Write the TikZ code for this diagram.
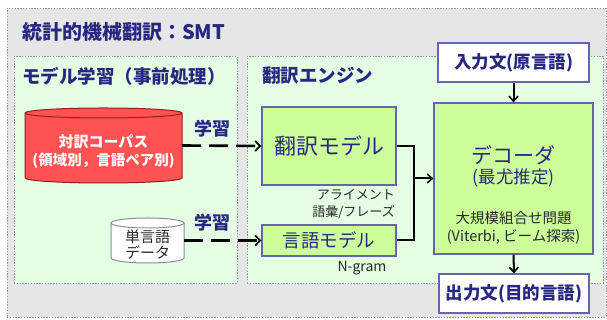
\documentclass[tikz,border=0pt]{standalone}
\usepackage{fontspec}
\setmainfont{Noto Sans CJK JP}
\usetikzlibrary{arrows.meta}
\definecolor{navy}{RGB}{40,40,130}
\definecolor{bdr}{RGB}{100,100,175}
\definecolor{lime}{RGB}{204,255,153}
\definecolor{panelc}{RGB}{228,255,228}
\definecolor{outerc}{RGB}{230,230,230}
\definecolor{dotc}{RGB}{150,150,168}
\definecolor{corp}{RGB}{255,82,82}
\definecolor{corpb}{RGB}{150,30,30}
\definecolor{cylb}{RGB}{140,140,150}
\definecolor{txtc}{RGB}{40,40,40}
\newcommand{\fs}[1]{\fontsize{#1}{#1}\selectfont}
\tikzset{
  panelbox/.style={draw=dotc, line width=0.9pt, dash pattern=on 1.4pt off 1.4pt, fill=panelc, inner sep=0pt},
  outerbox/.style={draw=dotc, line width=0.9pt, dash pattern=on 1.4pt off 1.4pt, fill=outerc, inner sep=0pt},
  greenbox/.style={draw=bdr, line width=1.2pt, fill=lime, inner sep=0pt, text=navy},
  whitebox/.style={draw=bdr, line width=1.2pt, fill=white, inner sep=0pt, text=navy, font=\fs{17.5}\bfseries},
  heading/.style={anchor=west, inner sep=0pt, text=navy, font=\fs{18.5}\bfseries},
  learn/.style={inner sep=0pt, text=navy, font=\fs{18}\bfseries},
  note/.style={inner sep=0pt, text=txtc, font=\fs{13}},
  conn/.style={line width=2pt, black, line join=miter},
  tip/.style={-{Straight Barb[length=5pt,width=9pt,line width=1.6pt]}},
  dasharrow/.style={line width=2.6pt, black, dash pattern=on 19pt off 8pt, -{Straight Barb[length=5pt,width=10pt,line width=1.8pt]}},
  ghost/.style={inner sep=0pt, draw=none}
}
\begin{document}
\begin{tikzpicture}[x=1pt,y=1pt]
\useasboundingbox (0,0) rectangle (607,320);
% outer and panels
\node[outerbox, minimum width=599pt, minimum height=309pt] (outer) at (306.5,157.5) {};
\node[panelbox, minimum width=223pt, minimum height=227pt] (leftp) at (125.5,150.5) {};
\node[panelbox, minimum width=356pt, minimum height=227pt] (engp) at (425,150.5) {};
% headings
\node[heading, font=\fs{20}\bfseries] (title) at (22,288) {統計的機械翻訳：SMT};
\node[heading] (lhead) at (22,244) {モデル学習（事前処理）};
\node[heading] (ehead) at (262,244) {翻訳エンジン};
% input / output
\node[whitebox, minimum width=151pt, minimum height=39pt] (input) at (513.5,257.5) {入力文(原言語)};
\node[whitebox, minimum width=150pt, minimum height=39pt] (output) at (514,26.5) {出力文(目的言語)};
% decoder
\node[greenbox, minimum width=159pt, minimum height=151pt] (decoder) at (513.5,141.5) {};
\node[inner sep=0pt, text=navy, font=\fs{21}] (dec1) at (513.5,165) {デコーダ};
\node[inner sep=0pt, text=navy, font=\fs{17.5}] (dec2) at (513.5,142) {(最尤推定)};
\node[inner sep=0pt, text=txtc, font=\fs{14.5}] (dec3) at (513.5,102) {大規模組合せ問題};
\node[inner sep=0pt, text=txtc, font=\fs{14.5}] (dec4) at (513.5,83) {(Viterbi, ビーム探索)};
% models
\node[greenbox, minimum width=134pt, minimum height=78pt, font=\fs{22}] (tmodel) at (329,174) {翻訳モデル};
\node[greenbox, minimum width=134pt, minimum height=31pt, font=\fs{18.5}] (lmodel) at (329,79.5) {言語モデル};
\node[note, anchor=east] (al1) at (395,125) {アライメント};
\node[note, anchor=east] (al2) at (395,108) {語彙/フレーズ};
\node[note, font=\fs{14}] (ngram) at (362,52) {N-gram};
% corpus cylinder
\node[ghost, minimum width=157pt, minimum height=75pt] (corpus) at (103.5,174.5) {};
\draw[fill=corp, draw=corpb, line width=1pt] (25,207) -- (25,142) arc[start angle=180,end angle=360,x radius=78.5,y radius=5] -- (182,207) arc[start angle=0,end angle=180,x radius=78.5,y radius=5] -- cycle;
\draw[draw=corpb, line width=1pt] (25,207) arc[start angle=180,end angle=360,x radius=78.5,y radius=5];
\node[inner sep=0pt, text=white, font=\fs{15}\bfseries] (corp1) at (103.5,178) {対訳コーパス};
\node[inner sep=0pt, text=white, font=\fs{14.5}\bfseries] (corp2) at (103.5,159) {(領域別，言語ペア別)};
% mono cylinder
\node[ghost, minimum width=73pt, minimum height=45pt] (mono) at (147.5,79.5) {};
\draw[fill=white, draw=cylb, line width=1pt] (111,97) -- (111,62) arc[start angle=180,end angle=360,x radius=36.5,y radius=5] -- (184,97) arc[start angle=0,end angle=180,x radius=36.5,y radius=5] -- cycle;
\draw[draw=cylb, line width=1pt] (111,97) arc[start angle=180,end angle=360,x radius=36.5,y radius=5];
\node[inner sep=0pt, text=txtc, font=\fs{15}] (mono1) at (147.5,83) {単言語};
\node[inner sep=0pt, text=txtc, font=\fs{15}] (mono2) at (147.5,67) {データ};
% dashed learning arrows
\draw[dasharrow] (corpus.east) -- (tmodel.west);
\draw[dasharrow] (mono.east) -- (lmodel.west);
\node[learn] (learn1) at (212,191) {学習};
\node[learn] (learn2) at (212,97) {学習};
% solid connectors
\coordinate (jn) at (414,141.5);
\draw[conn] (tmodel.east) -| (jn);
\draw[conn] (lmodel.east) -| (jn);
\draw[conn, tip] (jn) -- (decoder.west);
\draw[conn, tip] (input.south) -- (decoder.north);
\draw[conn, tip] (decoder.south) -- (output.north);
\end{tikzpicture}
\end{document}
